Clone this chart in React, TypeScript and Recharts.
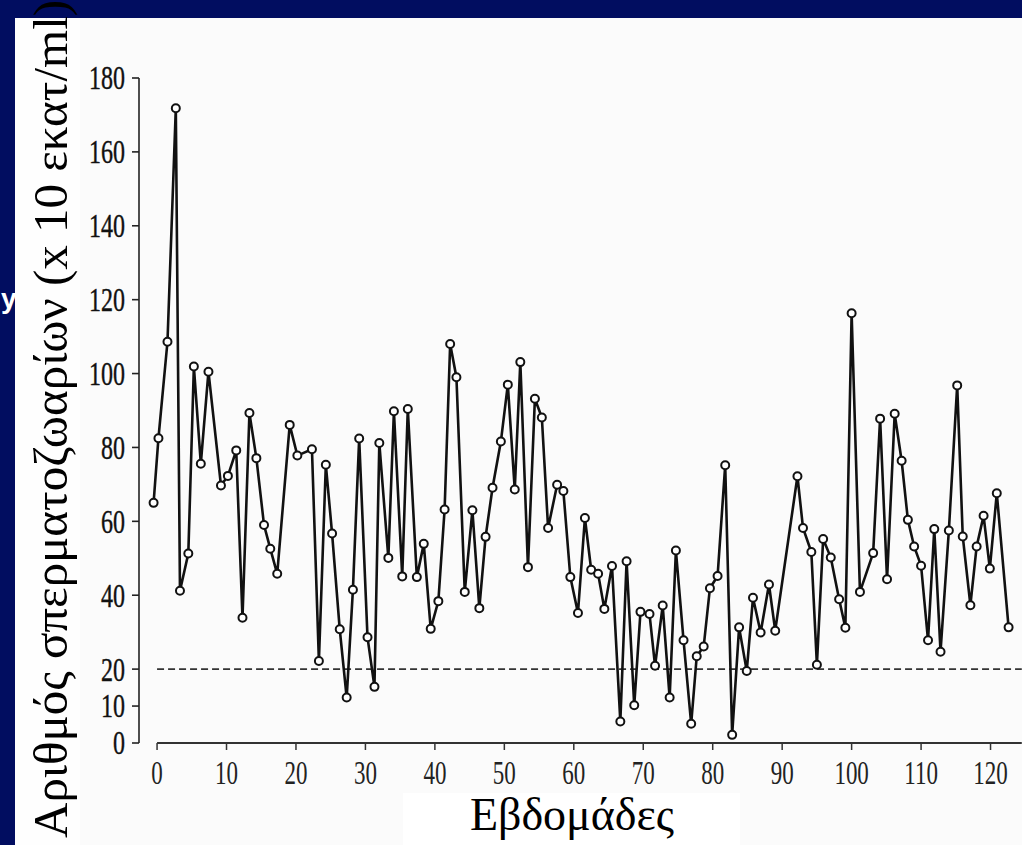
import { LineChart, Line, XAxis, YAxis, ReferenceLine } from 'recharts';

// weeks (points are not exactly on whole weeks)
const weeks = [
  -0.5, 0.2, 1.5, 2.7, 3.3, 4.5, 5.3, 6.3, 7.4, 9.2, 10.2, 11.4, 12.3, 13.3, 14.3, 15.4, 16.3, 17.3,
  19.1, 20.2, 22.3, 23.3, 24.3, 25.2, 26.3, 27.3, 28.2, 29.1, 30.3, 31.3, 32.0, 33.3, 34.1, 35.3,
  36.1, 37.4, 38.4, 39.4, 40.5, 41.4, 42.2, 43.1, 44.3, 45.4, 46.4, 47.3, 48.3, 49.5, 50.5, 51.5,
  52.3, 53.4, 54.4, 55.4, 56.3, 57.6, 58.5, 59.5, 60.6, 61.6, 62.5, 63.5, 64.4, 65.5, 66.7, 67.6,
  68.7, 69.6, 70.9, 71.7, 72.8, 73.8, 74.7, 75.8, 76.9, 77.7, 78.7, 79.6, 80.7, 81.8, 82.8, 83.8,
  84.9, 85.8, 86.9, 88.1, 89.0, 92.2, 93.0, 94.2, 95.0, 95.9, 97.0, 98.2, 99.1, 100.0, 101.2,
  103.1, 104.1, 105.1, 106.2, 107.2, 108.1, 109.0, 110.0, 111.0, 111.9, 112.8, 114.0, 115.2,
  116.0, 117.1, 118.0, 119.0, 119.9, 120.9, 122.6,
];

// sperm count, x10 million per ml
const counts = [
  65.0, 82.5, 108.6, 171.8, 41.2, 51.3, 101.9, 75.6, 100.5, 69.7, 72.3, 79.2, 33.9, 89.3, 77.1,
  59.0, 52.6, 45.8, 86.1, 77.8, 79.5, 22.2, 75.3, 56.7, 30.8, 12.3, 41.5, 82.4, 28.6, 15.2, 81.2,
  50.1, 89.8, 45.1, 90.4, 44.9, 53.9, 30.9, 38.4, 63.2, 108.0, 99.0, 40.9, 63.0, 36.5, 55.8, 69.1,
  81.6, 97.0, 68.6, 103.1, 47.6, 93.2, 88.1, 58.2, 69.9, 68.2, 44.9, 35.2, 60.9, 46.9, 45.8, 36.3,
  47.9, 5.8, 49.2, 10.2, 35.5, 34.9, 20.9, 37.2, 12.3, 52.1, 27.8, 5.2, 23.5, 26.1, 41.9, 45.2,
  75.2, 2.2, 31.3, 19.5, 39.3, 29.9, 42.9, 30.4, 72.2, 58.2, 51.7, 21.2, 55.2, 50.2, 38.9, 31.2,
  116.3, 40.9, 51.4, 87.8, 44.3, 89.1, 76.4, 60.4, 53.2, 48.0, 27.8, 57.9, 24.7, 57.5, 96.8, 55.9,
  37.3, 53.2, 61.5, 47.2, 67.6, 31.3,
];

const xTicks = [0, 10, 20, 30, 40, 50, 60, 70, 80, 90, 100, 110, 120];
const yTicks = [0, 10, 20, 40, 60, 80, 100, 120, 140, 160, 180];
const threshold = 20;
const xEnd = 124.5;

const data = weeks.map((w, i) => ({ week: w, count: counts[i] }));

const NAVY = '#010d60';
const INK = '#111';
const SERIF = '"Liberation Serif", "DejaVu Serif", serif';

function XTick({ x, y, payload }: any) {
  return (
    <g transform={`translate(${x},${y}) scale(1,1.42)`}>
      <text textAnchor='middle' dy='0.7em' fontFamily={SERIF} fontSize={23} fill='#222'>
        {payload.value}
      </text>
    </g>
  );
}

function YTick({ x, y, payload }: any) {
  return (
    <g transform={`translate(${x},${y}) scale(1,1.4)`}>
      <text textAnchor='end' dy='0.34em' fontFamily={SERIF} fontSize={24} fill='#111' stroke='#111' strokeWidth={0.3}>
        {payload.value}
      </text>
    </g>
  );
}

export default function App() {
  return (
    <div style={{ position: 'absolute', left: 0, top: 0, width: 1022, height: 845, background: NAVY, overflow: 'hidden' }}>
      <div style={{ position: 'absolute', left: 21, top: 18, width: 1001, height: 827, background: '#fbfbfb' }} />
      <div style={{ position: 'absolute', left: 15, top: 18, width: 65, height: 827, background: '#fefefe' }} />
      <div style={{ position: 'absolute', left: 0, top: 0 }}>
        <LineChart width={1022} height={845} data={data} margin={{ top: 78, right: 0, bottom: 0, left: 0 }}>
          <XAxis
            dataKey='week'
            type='number'
            domain={[-2.6, 124.53]}
            allowDataOverflow
            ticks={xTicks}
            interval={0}
            axisLine={false}
            tickLine={{ stroke: '#333', strokeWidth: 1.5 }}
            tickSize={7}
            tickMargin={11}
            height={102}
            tick={<XTick />}
          />
          <YAxis
            type='number'
            domain={[0, 180]}
            ticks={yTicks}
            interval={0}
            width={139}
            axisLine={{ stroke: '#222', strokeWidth: 1.6 }}
            tickLine={{ stroke: '#222', strokeWidth: 1.6 }}
            tickSize={7}
            tickMargin={7}
            tick={<YTick />}
          />
          <ReferenceLine
            segment={[{ x: 0, y: 0 }, { x: xEnd, y: 0 }]}
            stroke='#333'
            strokeWidth={2}
          />
          <ReferenceLine
            segment={[{ x: 0, y: threshold }, { x: xEnd, y: threshold }]}
            stroke='#333'
            strokeWidth={1.8}
            strokeDasharray='7 4'
          />
          <Line
            type='linear'
            dataKey='count'
            stroke={INK}
            strokeWidth={2.6}
            dot={{ r: 4, fill: '#fff', stroke: INK, strokeWidth: 2 }}
            activeDot={false}
            isAnimationActive={false}
          />
        </LineChart>
      </div>
      <svg width={1022} height={845} style={{ position: 'absolute', left: 0, top: 0, pointerEvents: 'none' }}>
        <text x={1} y={308} fontFamily='"Liberation Sans", sans-serif' fontWeight='bold' fontSize={28} fill='#fff'>
          y
        </text>
        <text
          transform='translate(67,838) rotate(-90)'
          fontFamily={SERIF}
          fontSize={49}
          fill='#000'
        >
          Αριθμός σπερματοζωαρίων (x 10 εκατ/ml)
        </text>
        <rect x={403} y={793} width={337} height={52} fill='#fff' />
        <text x={572} y={830} textAnchor='middle' fontFamily={SERIF} fontSize={46} fill='#000'>
          Εβδομάδες
        </text>
      </svg>
    </div>
  );
}
